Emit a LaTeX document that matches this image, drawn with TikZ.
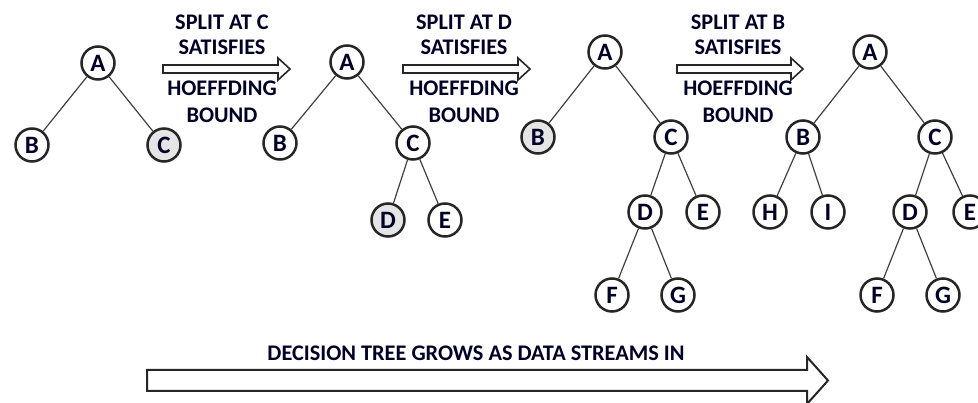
\documentclass[tikz,border=0pt]{standalone}
\usepackage{fontspec}
\setmainfont{Carlito}
\begin{document}
\begin{tikzpicture}[x=1pt,y=-1pt,
  tnode/.style={circle,draw=black!85,line width=2.5pt,minimum size=33pt,inner sep=0pt,
    font=\fontsize{25}{25}\selectfont\bfseries,text=black!85!blue},
  shade/.style={fill=black!10},
  edge/.style={draw=black!75,line width=1.2pt},
  lbl/.style={font=\fontsize{22.3}{22.3}\selectfont\bfseries,text=black!85!blue,inner sep=0pt},
  harrow/.style={draw=black!85,line width=1.6pt,fill=white,line join=miter}]
\useasboundingbox (0,0) rectangle (978,403);

% ---- tree 1
\node[tnode] (a1) at (98,63) {A};
\node[tnode] (b1) at (32,145) {B};
\node[tnode,shade] (c1) at (164,145) {C};
\draw[edge] (a1) -- (b1);
\draw[edge] (a1) -- (c1);

% ---- arrow 1
\draw[harrow] (163,65) -- (278,65) -- (278,58) -- (290,69) -- (278,80) -- (278,73) -- (163,73) -- cycle;
\node[lbl] (t1a) at (222,22) {SPLIT AT C};
\node[lbl] (t1b) at (222,47) {SATISFIES};
\node[lbl] (t1c) at (222,88) {HOEFFDING};
\node[lbl] (t1d) at (222,115) {BOUND};

% ---- tree 2
\node[tnode] (a2) at (347,62) {A};
\node[tnode] (b2) at (280,143) {B};
\node[tnode] (c2) at (413,143) {C};
\node[tnode,shade] (d2) at (388,220) {D};
\node[tnode] (e2) at (445,220) {E};
\draw[edge] (a2) -- (b2);
\draw[edge] (a2) -- (c2);
\draw[edge] (c2) -- (d2);
\draw[edge] (c2) -- (e2);

% ---- arrow 2
\draw[harrow] (403,65) -- (518,65) -- (518,58) -- (530,69) -- (518,80) -- (518,73) -- (403,73) -- cycle;
\node[lbl] (t2a) at (464,22) {SPLIT AT D};
\node[lbl] (t2b) at (464,47) {SATISFIES};
\node[lbl] (t2c) at (464,88) {HOEFFDING};
\node[lbl] (t2d) at (464,115) {BOUND};

% ---- tree 3
\node[tnode] (a3) at (605,52) {A};
\node[tnode,shade] (b3) at (538,137) {B};
\node[tnode] (c3) at (671,137) {C};
\node[tnode] (d3) at (645,212) {D};
\node[tnode] (e3) at (703,212) {E};
\node[tnode] (f3) at (612,295) {F};
\node[tnode] (g3) at (678,295) {G};
\draw[edge] (a3) -- (b3);
\draw[edge] (a3) -- (c3);
\draw[edge] (c3) -- (d3);
\draw[edge] (c3) -- (e3);
\draw[edge] (d3) -- (f3);
\draw[edge] (d3) -- (g3);

% ---- arrow 3
\draw[harrow] (677,65) -- (791,65) -- (791,58) -- (803,69) -- (791,80) -- (791,73) -- (677,73) -- cycle;
\node[lbl] (t3a) at (738,22) {SPLIT AT B};
\node[lbl] (t3b) at (738,47) {SATISFIES};
\node[lbl] (t3c) at (738,88) {HOEFFDING};
\node[lbl] (t3d) at (738,115) {BOUND};

% ---- tree 4
\node[tnode] (a4) at (870,52) {A};
\node[tnode] (b4) at (803,137) {B};
\node[tnode] (c4) at (935,137) {C};
\node[tnode] (h4) at (770,212) {H};
\node[tnode] (i4) at (828,212) {I};
\node[tnode] (d4) at (910,212) {D};
\node[tnode] (e4) at (970,212) {E};
\node[tnode] (f4) at (877,295) {F};
\node[tnode] (g4) at (943,295) {G};
\draw[edge] (a4) -- (b4);
\draw[edge] (a4) -- (c4);
\draw[edge] (b4) -- (h4);
\draw[edge] (b4) -- (i4);
\draw[edge] (c4) -- (d4);
\draw[edge] (c4) -- (e4);
\draw[edge] (d4) -- (f4);
\draw[edge] (d4) -- (g4);

% ---- bottom arrow
\draw[harrow,line width=2pt] (147,370) -- (807,370) -- (807,357) -- (828,380.5) -- (807,404) -- (807,391) -- (147,391) -- cycle;
\node[lbl] (tb) at (476,353) {DECISION TREE GROWS AS DATA STREAMS IN};
\end{tikzpicture}
\end{document}
